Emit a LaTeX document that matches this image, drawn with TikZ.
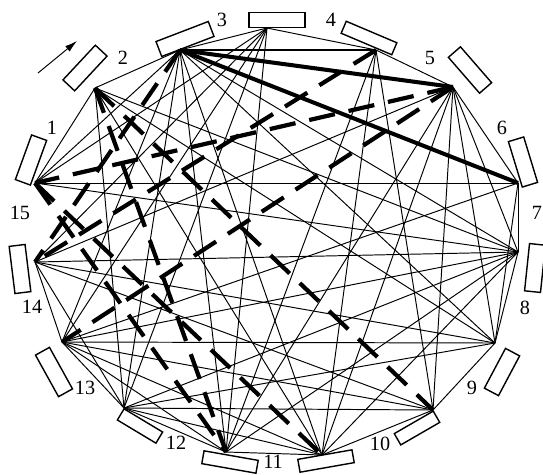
\documentclass[tikz,border=0pt]{standalone}
\usepackage{fontspec}
\setmainfont{Liberation Serif}
\usepackage{tikz}
\usetikzlibrary{arrows.meta}

\tikzset{
    station/.style={draw, line width=0.8pt, inner sep=0pt, minimum width=0.95cm, minimum height=0.32cm},
    link/.style={line width=0.55pt},
    heavy/.style={line width=2.3pt},
    heavydash/.style={line width=2.4pt, dash pattern=on 15pt off 8pt},
    num/.style={inner sep=1pt, font=\fontsize{11.5}{13}\selectfont}
}

\begin{document}
\begin{tikzpicture}[x=0.02cm, y=-0.02cm]
\useasboundingbox (0,0) rectangle (543,474);

% stops on the ring
\coordinate (q1) at (35,183);
\coordinate (q2) at (95,88);
\coordinate (q3) at (180,50);
\coordinate (q4) at (267,28);
\coordinate (q5) at (376,50);
\coordinate (q6) at (453,87);
\coordinate (q7) at (518,183);
\coordinate (q8) at (518,252);
\coordinate (q9) at (495,343);
\coordinate (q10) at (433,410);
\coordinate (q11) at (322,455);
\coordinate (q12) at (226,452);
\coordinate (q13) at (124,408);
\coordinate (q14) at (62,342);
\coordinate (q15) at (35,262);

% platforms
\node[station, rotate=70] (b1) at (31,160) {};
\node[station, rotate=47] (b2) at (85,68) {};
\node[station, rotate=21, minimum width=1.12cm] (b3) at (185,39) {};
\node[station, minimum width=1.12cm, minimum height=0.3cm] (b4) at (277,20) {};
\node[station, rotate=-23, minimum width=1.1cm, minimum height=0.26cm] (b5) at (369,38) {};
\node[station, rotate=-49] (b6) at (470,70) {};
\node[station, rotate=-73] (b7) at (523,162) {};
\node[station, rotate=-96] (b8) at (535,268) {};
\node[station, rotate=62, minimum width=0.9cm] (b9) at (502,372) {};
\node[station, rotate=30, minimum width=0.9cm, minimum height=0.26cm] (b10) at (417,428) {};
\node[station, rotate=10, minimum width=1.1cm, minimum height=0.26cm] (b11) at (326,461) {};
\node[station, rotate=-10, minimum width=1.1cm, minimum height=0.26cm] (b12) at (230,462) {};
\node[station, rotate=-31, minimum width=0.9cm, minimum height=0.26cm] (b13) at (140,426) {};
\node[station, rotate=-61] (b14) at (54,372) {};
\node[station, rotate=-83] (b15) at (20,269) {};

% numbers
\node[num] (l1) at (52,128) {1};
\node[num] (l2) at (123,58) {2};
\node[num] (l3) at (222,20) {3};
\node[num] (l4) at (331,20) {4};
\node[num] (l5) at (430,58) {5};
\node[num] (l6) at (502,128) {6};
\node[num] (l7) at (537,213) {7};
\node[num] (l8) at (525,308) {8};
\node[num] (l9) at (472,388) {9};
\node[num] (l10) at (380,444) {10};
\node[num] (l11) at (273,462) {11};
\node[num] (l12) at (176,443) {12};
\node[num] (l13) at (85,388) {13};
\node[num] (l14) at (32,307) {14};
\node[num] (l15) at (20,213) {15};

% direction of travel
\coordinate (d0) at (38,73);
\coordinate (d1) at (77,41);
\draw[link, -{Latex[length=7pt, width=4pt]}] (d0) -- (d1);

% thin links
\foreach \a/\b in {q1/q2, q2/q3, q3/q4, q4/q5, q5/q6, q6/q7, q7/q8, q8/q9, q9/q10,
    q10/q11, q11/q12, q12/q13, q13/q14, q14/q15,
    q1/q3, q1/q4, q1/q7, q1/q8, q15/q4, q15/q8, q15/q9,
    q3/q11, q3/q12, q3/q13, q3/q14, q3/q8, q3/q9,
    q4/q13, q4/q14, q4/q12, q5/q11, q5/q10, q5/q12,
    q6/q8, q6/q9, q6/q10, q6/q11, q6/q12, q6/q15,
    q7/q9, q7/q14, q8/q14, q8/q13, q8/q12, q8/q11, q8/q2,
    q9/q13, q9/q14, q9/q2, q10/q13, q10/q14, q10/q15,
    q11/q14, q11/q13, q11/q2, q12/q14, q13/q15, q13/q2}
    \draw[link] (\a) -- (\b);

\draw[link, line width=1.1pt] (q3) -- (q5);

% heavy links
\draw[heavy] (q3) -- (q6);
\draw[heavy] (q3) -- (q7);

% dashed links
\foreach \a/\b in {q2/q10, q1/q11, q1/q12, q6/q1, q6/q14, q3/q15, q2/q12, q5/q15}
    \draw[heavydash] (\a) -- (\b);

\end{tikzpicture}
\end{document}
